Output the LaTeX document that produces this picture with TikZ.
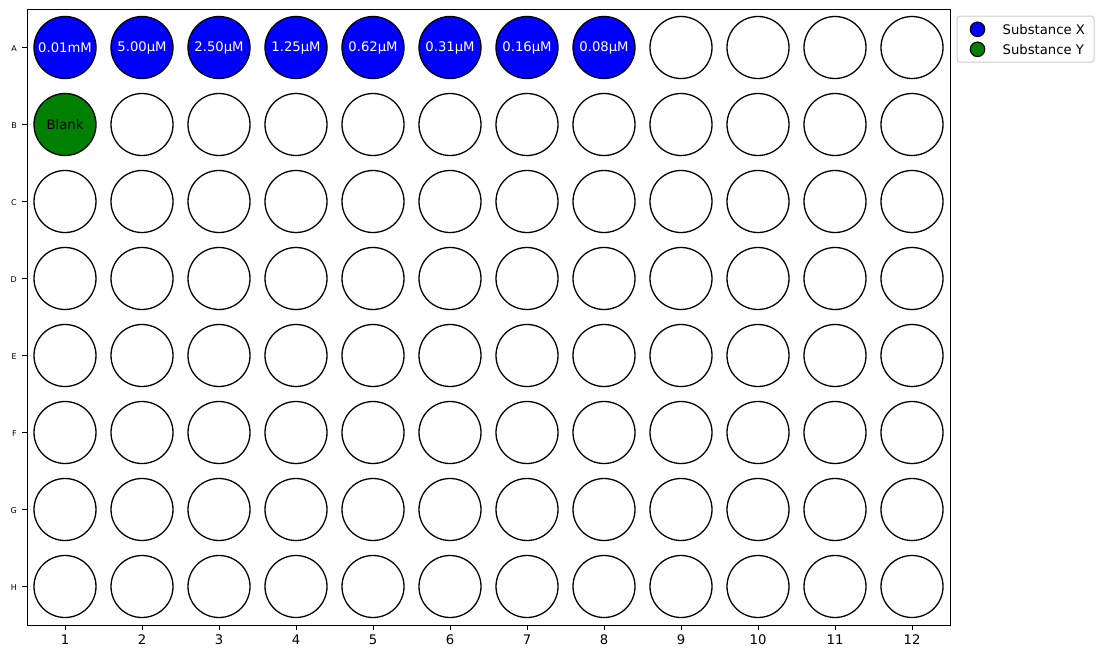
\documentclass[tikz,border=0pt]{standalone}
\usepackage{fontspec}
\setmainfont{DejaVu Sans}
\usetikzlibrary{positioning}
\definecolor{subx}{HTML}{0000FF}
\definecolor{suby}{HTML}{008000}
\definecolor{legedge}{HTML}{CCCCCC}
\tikzset{
  well/.style={circle, draw=black, fill=white, line width=1.3pt, minimum size=62pt,
               inner sep=0pt, font=\fontsize{13.2}{16}\selectfont},
  wellx/.style={well, fill=subx, text=white},
  welly/.style={well, fill=suby, text=black},
  frame/.style={draw=black, line width=0.9pt},
  tick/.style={draw=black, line width=0.9pt},
  collbl/.style={font=\fontsize{13.2}{16}\selectfont, inner sep=0pt},
  rowlbl/.style={font=\fontsize{8}{10}\selectfont, inner sep=0pt, anchor=east},
  legbox/.style={rectangle, rounded corners=3pt, draw=legedge, fill=white,
                 line width=1pt, minimum width=137pt, minimum height=46pt, inner sep=0pt},
  legmark/.style={circle, draw=black, line width=1.1pt, minimum size=14.5pt, inner sep=0pt},
  legtxt/.style={font=\fontsize{13.2}{16}\selectfont, anchor=west, inner sep=0pt}
}

\begin{document}
\begin{tikzpicture}[x=1pt, y=-1pt]
  \useasboundingbox (0,0) rectangle (1103,659);

  % plate frame
  \draw[frame] (27,9.5) rectangle (950,625);

  % row A: dilution series of substance X
  \foreach \c/\conc in {1/0.01mM,2/5.00μM,3/2.50μM,4/1.25μM,5/0.62μM,6/0.31μM,7/0.16μM,8/0.08μM}
    \node[wellx] (A\c) at ({65+77*(\c-1)},47.5) {\conc};
  \foreach \c in {9,...,12}
    \node[well] (A\c) at ({65+77*(\c-1)},47.5) {};

  % row B: blank
  \node[welly] (B1) at (65,124.5) {Blank};
  \foreach \c in {2,...,12}
    \node[well] (B\c) at ({65+77*(\c-1)},124.5) {};

  % empty rows
  \foreach \r [count=\i from 2] in {C,D,E,F,G,H}
    \foreach \c in {1,...,12}
      \node[well] (\r\c) at ({65+77*(\c-1)},{47.5+77*\i}) {};

  % axes
  \foreach \c in {1,...,12} {
    \draw[tick] ({65+77*(\c-1)},625) -- ++(0,4.9);
    \node[collbl, anchor=north] (x\c) at ({65+77*(\c-1)},634.5) {\c};
  }
  \foreach \r [count=\i from 0] in {A,B,C,D,E,F,G,H} {
    \draw[tick] (27,{47.5+77*\i}) -- ++(-4.9,0);
    \node[rowlbl] (y\r) at (17,{48.5+77*\i}) {\r};
  }

  % legend
  \node[legbox] (leg) at (1025.5,39) {};
  \node[legmark, fill=subx] (mx) at (977.5,29.3) {};
  \node[legmark, fill=suby] (my) at (977.5,49.3) {};
  \node[legtxt] (tx) at (1002.5,29.3) {Substance X};
  \node[legtxt] (ty) at (1002.5,49.3) {Substance Y};
\end{tikzpicture}
\end{document}
